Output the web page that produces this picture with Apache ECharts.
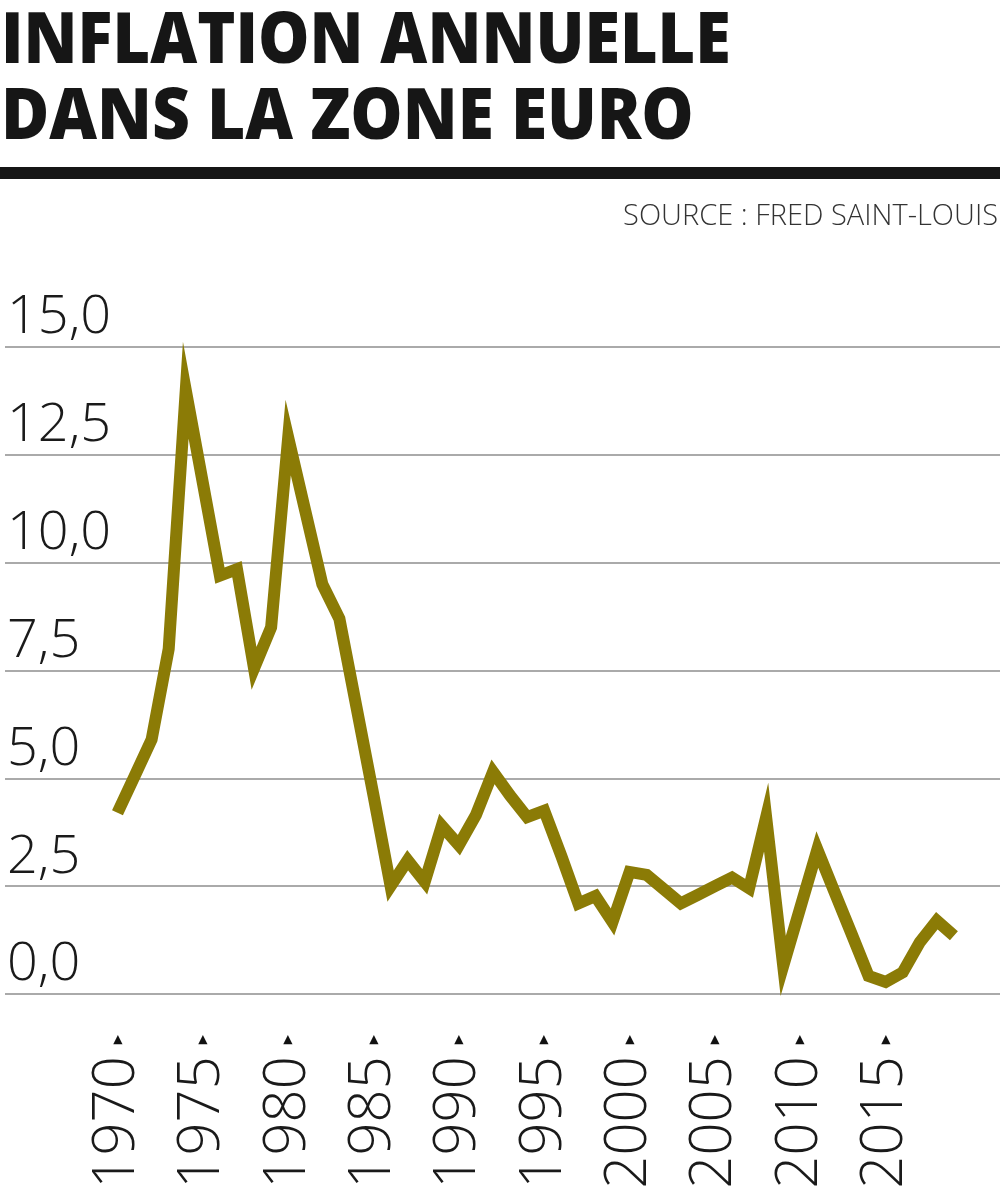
<!DOCTYPE html>
<html>
<head>
<meta charset="utf-8">
<script src="https://cdn.jsdelivr.net/npm/echarts@6/dist/echarts.min.js"></script>
<style>
html,body{margin:0;padding:0;background:#fff;}
#chart{width:1000px;height:1200px;}
</style>
</head>
<body>
<div id="chart"></div>
<script>
const titleLine1 = "INFLATION ANNUELLE";
const titleLine2 = "DANS LA ZONE EURO";
const sourceText = "SOURCE : FRED SAINT-LOUIS";
const years = [1970,1971,1972,1973,1974,1975,1976,1977,1978,1979,
               1980,1981,1982,1983,1984,1985,1986,1987,1988,1989,
               1990,1991,1992,1993,1994,1995,1996,1997,1998,1999,
               2000,2001,2002,2003,2004,2005,2006,2007,2008,2009,
               2010,2011,2012,2013,2014,2015,2016,2017,2018,2019];
const inflation = [4.2,5.05,5.9,8.0,14.0,11.85,9.7,9.85,7.55,8.5,
                   12.9,11.2,9.5,8.7,6.65,4.6,2.5,3.1,2.6,3.9,
                   3.45,4.15,5.15,4.6,4.1,4.25,3.2,2.1,2.27,1.67,
                   2.83,2.76,2.43,2.1,2.3,2.5,2.7,2.45,4.1,0.65,
                   2.0,3.35,2.37,1.4,0.42,0.28,0.5,1.2,1.7,1.35];
const xTickYears = [1970,1975,1980,1985,1990,1995,2000,2005,2010,2015];

const chart = echarts.init(document.getElementById('chart'), null, {renderer:'canvas'});
const seriesData = years.map((y,i)=>[y, inflation[i]]);
const titleStyle = {fontFamily:'"Open Sans"',fontWeight:800,fontSize:70,fill:'#161616'};

chart.setOption({
  animation:false,
  backgroundColor:'#fff',
  graphic:[{
    type:'text', x:1, y:8, scaleX:0.925,
    style:Object.assign({text:titleLine1}, titleStyle)
  },{
    type:'text', x:1, y:84, scaleX:0.94,
    style:Object.assign({text:titleLine2}, titleStyle)
  },{
    type:'text', right:2, top:202,
    style:{text:sourceText,fontFamily:'"Open Sans"',fontWeight:300,fontSize:29,fill:'#333'}
  },{
    type:'rect', left:0, top:167,
    shape:{width:1000,height:12},
    style:{fill:'#161616'}
  }],
  grid:{left:5,right:0,top:347,bottom:206,containLabel:false},
  xAxis:{
    type:'value',
    min:1963.41, max:2021.7,
    axisLine:{show:false},
    axisTick:{show:false},
    splitLine:{show:false},
    axisLabel:{
      customValues:xTickYears,
      rotate:90,
      margin:41,
      formatter:function(v){return '{v|'+v+'}{t|▶}';},
      rich:{
        v:{fontFamily:'"Open Sans"',fontWeight:300,fontSize:58,color:'#1a1a1a'},
        t:{fontFamily:'"DejaVu Sans"',fontSize:12,color:'#111',padding:[0,0,0,12]}
      }
    }
  },
  yAxis:{
    type:'value',
    min:0,max:15,interval:2.5,
    axisLine:{show:false},
    axisTick:{show:false},
    splitLine:{show:true,lineStyle:{color:'#8e8e8e',width:1.5}},
    axisLabel:{
      inside:true,
      align:'left',
      verticalAlign:'bottom',
      margin:2,
      padding:[0,0,2,0],
      fontFamily:'"Open Sans"',fontWeight:300,fontSize:54,lineHeight:54,color:'#1a1a1a',
      formatter:function(v){return v.toFixed(1).replace('.',',');}
    }
  },
  series:[{
    type:'line',
    data:seriesData,
    showSymbol:false,
    symbol:'none',
    lineStyle:{color:'#8b7b06',width:12,join:'miter',miterLimit:40,cap:'butt'},
    z:3
  }]
});
</script>
</body>
</html>
